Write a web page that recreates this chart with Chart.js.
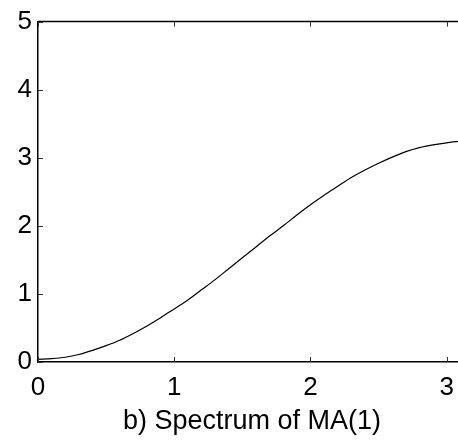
<!DOCTYPE html>
<html>
<head>
<meta charset="utf-8">
<title>Spectrum of MA(1)</title>
<script src="https://cdn.jsdelivr.net/npm/chart.js@4.4.1/dist/chart.umd.min.js"></script>
<style>
  html, body { margin: 0; padding: 0; background: #fff; overflow: hidden; }
  /* the axes box runs a little past the right edge of the window, as in the original */
  #wrap { width: 470px; height: 445px; }
</style>
</head>
<body>
<div id="wrap"><canvas id="spectrumChart"></canvas></div>
<script>
// Values.
const freq = [0, 0.1, 0.2, 0.3, 0.4, 0.5, 0.6, 0.7, 0.8, 0.9, 1.0, 1.1, 1.2, 1.3, 1.4, 1.5,
  1.6, 1.7, 1.8, 1.9, 2.0, 2.1, 2.2, 2.3, 2.4, 2.5, 2.6, 2.7, 2.8, 2.9, 3.0, 3.1, 3.1416];
const spectrum = [0.04, 0.05, 0.07, 0.11, 0.17, 0.24, 0.32, 0.42, 0.53, 0.65, 0.78, 0.91,
  1.06, 1.21, 1.37, 1.53, 1.69, 1.85, 2.0, 2.16, 2.31, 2.45, 2.58, 2.71, 2.82, 2.92, 3.01,
  3.09, 3.15, 3.19, 3.22, 3.24, 3.24];
const xTicks = [0, 1, 2, 3];
const yTicks = [0, 1, 2, 3, 4, 5];
const title = "b) Spectrum of MA(1)";

const FONT = "'Liberation Sans', Arial, Helvetica, sans-serif";

// matlab style box with ticks pointing inward
const boxPlugin = {
  id: "box",
  afterDraw(chart) {
    const { ctx, chartArea: a, scales } = chart;
    const len = 5;
    ctx.save();
    ctx.strokeStyle = "#000";
    ctx.lineWidth = 1.5;
    ctx.beginPath();
    ctx.moveTo(a.left, a.top);
    ctx.lineTo(a.right, a.top);
    ctx.lineTo(a.right, a.bottom);
    ctx.stroke();

    ctx.lineWidth = 1;
    ctx.strokeStyle = "#333";
    ctx.beginPath();
    xTicks.forEach((v) => {
      const px = Math.round(scales.x.getPixelForValue(v)) + 0.5;
      ctx.moveTo(px, a.bottom);
      ctx.lineTo(px, a.bottom - len);
      ctx.moveTo(px, a.top);
      ctx.lineTo(px, a.top + len);
    });
    yTicks.forEach((v) => {
      const py = Math.round(scales.y.getPixelForValue(v)) + 0.5;
      ctx.moveTo(a.left, py);
      ctx.lineTo(a.left + len, py);
      ctx.moveTo(a.right, py);
      ctx.lineTo(a.right - len, py);
    });
    ctx.stroke();
    ctx.restore();
  },
};

new Chart(document.getElementById("spectrumChart"), {
  type: "line",
  data: {
    datasets: [
      {
        data: freq.map((f, i) => ({ x: f, y: spectrum[i] })),
        borderColor: "#000",
        borderWidth: 1.2,
        pointRadius: 0,
        cubicInterpolationMode: "monotone",
        fill: false,
      },
    ],
  },
  options: {
    responsive: true,
    maintainAspectRatio: false,
    animation: false,
    layout: { padding: { top: 17, right: 4, left: 0, bottom: 0 } },
    plugins: { legend: { display: false }, tooltip: { enabled: false } },
    scales: {
      x: {
        type: "linear",
        min: 0,
        max: 3.1416,
        afterBuildTicks: (s) => { s.ticks = xTicks.map((v) => ({ value: v })); },
        afterFit: (s) => { s.height = 83; },
        grid: { display: false, drawTicks: false },
        border: { display: true, color: "#000", width: 1.5 },
        ticks: { color: "#000", padding: 10, maxRotation: 0, font: { family: FONT, size: 26 } },
        title: {
          display: true,
          text: title,
          color: "#000",
          padding: { top: 0, bottom: 7 },
          font: { family: FONT, size: 27 },
        },
      },
      y: {
        type: "linear",
        min: 0,
        max: 5,
        afterBuildTicks: (s) => { s.ticks = yTicks.map((v) => ({ value: v })); },
        afterFit: (s) => { s.width = 38; },
        grid: { display: false, drawTicks: false },
        border: { display: true, color: "#000", width: 1.5 },
        ticks: { color: "#000", padding: 6, font: { family: FONT, size: 26 } },
      },
    },
  },
  plugins: [boxPlugin],
});
</script>
</body>
</html>
